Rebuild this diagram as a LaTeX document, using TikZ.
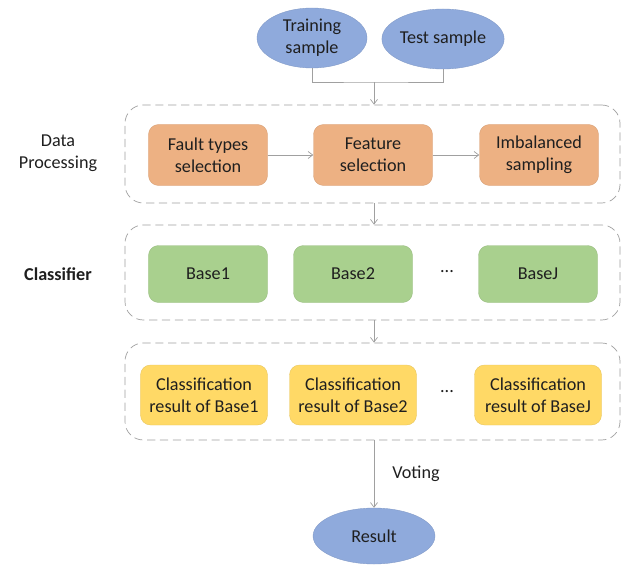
\documentclass[tikz,border=0pt]{standalone}
\usepackage{fontspec}
\setmainfont{Carlito}
\usetikzlibrary{arrows.meta, fit, shapes.geometric}

\definecolor{ellblue}{HTML}{8FAADC}
\definecolor{boxorange}{HTML}{EDB183}
\definecolor{boxgreen}{HTML}{A9D08E}
\definecolor{boxyellow}{HTML}{FFD966}
\definecolor{linegray}{HTML}{A0A0A0}

\tikzset{
    sample/.style={ellipse, fill=ellblue, draw=ellblue!90!black, line width=0.3pt, minimum width=3.3cm, minimum height=1.8cm, inner sep=0pt, align=center},
    procbox/.style={rectangle, rounded corners=0.3cm, fill=boxorange, draw=boxorange!90!black, line width=0.3pt, minimum width=3.57cm, minimum height=1.83cm, align=center},
    basebox/.style={rectangle, rounded corners=0.3cm, fill=boxgreen, draw=boxgreen!90!black, line width=0.3pt, minimum width=3.57cm, minimum height=1.71cm, align=center},
    resbox/.style={rectangle, rounded corners=0.3cm, fill=boxyellow, draw=boxyellow!90!black, line width=0.3pt, minimum width=3.81cm, minimum height=1.8cm, inner sep=1pt, align=center},
    frame/.style={draw=linegray, dash pattern=on 7pt off 4pt, rounded corners=0.55cm, inner sep=0pt, line width=0.6pt},
    link/.style={draw=linegray, line width=0.6pt},
    arr/.style={link, -{Straight Barb[length=4pt, width=6pt]}}
}

\begin{document}
\begin{tikzpicture}[x=0.03cm, y=-0.03cm, font=\fontsize{15.5}{18.5}\selectfont, text=black!88]
        \useasboundingbox (0,0) rectangle (621,564);

        % Input samples
        \node[sample] (train) at (312,38) {Training\\sample};
        \node[sample] (test) at (443,39) {Test sample};
        \coordinate (join) at (374,82);

        % Frames
        \node[frame, fit={(125,105) (620,203)}] (dp) {};
        \node[frame, fit={(125,225) (620,320)}] (cl) {};
        \node[frame, fit={(125,343) (620,440)}] (cr) {};

        % Data processing
        \node[align=center] at (58,153) {Data\\Processing};
        \node[procbox] (fault) at (208,155) {Fault types\\selection};
        \node[procbox] (feat) at (373,155) {Feature\\selection};
        \node[procbox] (imb) at (539,155) {Imbalanced\\sampling};

        % Classifier
        \node[font=\fontsize{15.5}{18.5}\selectfont\bfseries] at (58,274) {Classifier};
        \node[basebox] (b1) at (208,274) {Base1};
        \node[basebox] (b2) at (353,274) {Base2};
        \node (bdots) at (447,272) {...};
        \node[basebox] (bj) at (538,274) {BaseJ};

        % Classification results
        \node[resbox] (r1) at (204,395) {Classification\\result of Base1};
        \node[resbox] (r2) at (353,395) {Classification\\result of Base2};
        \node (rdots) at (447,392) {...};
        \node[resbox] (rj) at (538,395) {Classification\\result of BaseJ};

        % Result
        \node[sample, minimum width=3.66cm, minimum height=1.68cm] (res) at (374,536) {Result};

        % Connectors
        \draw[link] (train.south) |- (join) -| (test.south);
        \draw[arr] (join) -- (join |- dp.north);
        \draw[arr] (fault) -- (feat);
        \draw[arr] (feat) -- (imb);
        \draw[arr] (dp.south -| join) -- (cl.north -| join);
        \draw[arr] (cl.south -| join) -- (cr.north -| join);
        \draw[arr] (cr.south -| join) -- (res.north -| join) node[midway, right=12pt] {Voting};
    \end{tikzpicture}
\end{document}
